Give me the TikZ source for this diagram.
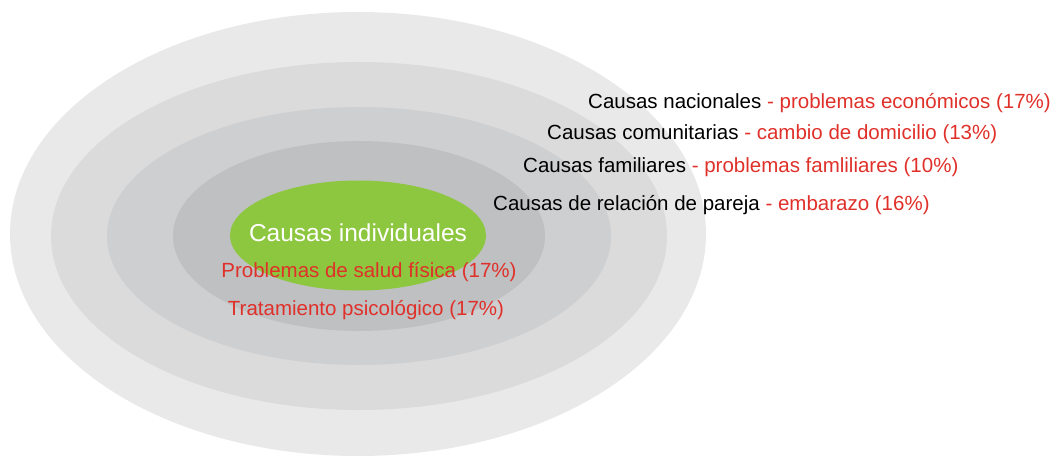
\documentclass[tikz,border=0pt]{standalone}
\usepackage{fontspec}
\setmainfont{Liberation Sans}
\usepackage{tikz}
\usetikzlibrary{positioning}

\definecolor{ringA}{HTML}{E9E9E9}
\definecolor{ringB}{HTML}{DBDBDC}
\definecolor{ringC}{HTML}{CECFD0}
\definecolor{ringD}{HTML}{BFC0C2}
\definecolor{coreGreen}{HTML}{8DC63F}
\definecolor{causeRed}{HTML}{E0302A}

\begin{document}
\begin{tikzpicture}[
  x=1pt, y=-1pt,
  label/.style={inner sep=0pt, anchor=base west, font=\fontsize{20.5}{24}\selectfont},
  item/.style={inner sep=0pt, anchor=base, text=causeRed, font=\fontsize{20.5}{24}\selectfont},
  core/.style={inner sep=0pt, anchor=base, text=white, font=\fontsize{24.5}{28}\selectfont}
]
\useasboundingbox (0,0) rectangle (1057,457);

% Rings (outer to inner)
\coordinate (c) at (358,234);
\fill[ringA] (c) ellipse [x radius=348, y radius=222];
\fill[ringB] (359,236) ellipse [x radius=308, y radius=174];
\fill[ringC] (359,236) ellipse [x radius=252, y radius=129];
\fill[ringD] (359,236) ellipse [x radius=186, y radius=95];
\fill[coreGreen] (358,235.5) ellipse [x radius=128, y radius=55];

% Centre labels
\node[core] (ind) at (358,241) {Causas individuales};
\node[item] (salud) at (369,277) {Problemas de salud física (17\%)};
\node[item] (psico) at (366,315) {Tratamiento psicológico (17\%)};

% Outer causes
\node[label] (nac) at (588,109) {Causas nacionales \textcolor{causeRed}{- problemas económicos (17\%)}};
\node[label] (com) at (547,140) {Causas comunitarias \textcolor{causeRed}{- cambio de domicilio (13\%)}};
\node[label] (fam) at (523,173) {Causas familiares \textcolor{causeRed}{- problemas famliliares (10\%)}};
\node[label] (par) at (493,211) {Causas de relación de pareja \textcolor{causeRed}{- embarazo (16\%)}};

\end{tikzpicture}
\end{document}
